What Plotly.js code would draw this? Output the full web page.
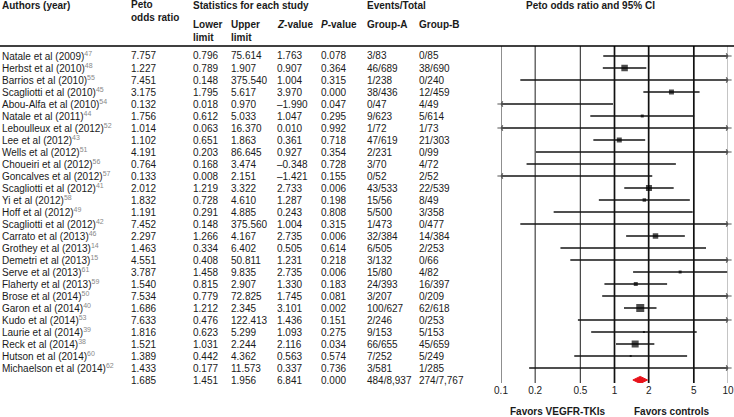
<!DOCTYPE html>
<html>
<head>
<meta charset="utf-8">
<script src="https://cdn.plot.ly/plotly-3.0.1.min.js"></script>
<style>html,body{margin:0;padding:0;background:#fff;}#chart{width:734px;height:417px;}</style>
</head>
<body>
<div id="chart"></div>
<script>
// ---- data ----
const authors = ["Natale et al (2009)","Herbst et al (2010)","Barrios et al (2010)","Scagliotti et al (2010)","Abou-Alfa et al (2010)","Natale et al (2011)","Leboulleux et al (2012)","Lee et al (2012)","Wells et al (2012)","Choueiri et al (2012)","Goncalves et al (2012)","Scagliotti et al (2012)","Yi et al (2012)","Hoff et al (2012)","Scagliotti et al (2012)","Carrato et al (2013)","Grothey et al (2013)","Demetri et al (2013)","Serve et al (2013)","Flaherty et al (2013)","Brose et al (2014)","Garon et al (2014)","Kudo et al (2014)","Laurie et al (2014)","Reck et al (2014)","Hutson et al (2014)","Michaelson et al (2014)"];
const refs = [47,48,55,45,54,44,52,43,51,56,57,41,58,49,42,46,14,15,61,59,50,40,53,39,38,60,62];
const peto  = [7.757,1.227,7.451,3.175,0.132,1.756,1.014,1.102,4.191,0.764,0.133,2.012,1.832,1.191,7.452,2.297,1.463,4.551,3.787,1.540,7.534,1.686,7.633,1.816,1.521,1.389,1.433];
const lower = [0.796,0.789,0.148,1.795,0.018,0.612,0.063,0.651,0.203,0.168,0.008,1.219,0.728,0.291,0.148,1.266,0.334,0.408,1.458,0.815,0.779,1.212,0.476,0.623,1.031,0.442,0.177];
const upper = [75.614,1.907,375.540,5.617,0.970,5.033,16.370,1.863,86.645,3.474,2.151,3.322,4.610,4.885,375.560,4.167,6.402,50.811,9.835,2.907,72.825,2.345,122.413,5.299,2.244,4.362,11.573];
const zval  = [1.763,0.907,1.004,3.970,-1.990,1.047,0.010,0.361,0.927,-0.348,-1.421,2.733,1.287,0.243,1.004,2.735,0.505,1.231,2.735,1.330,1.745,3.101,1.436,1.093,2.116,0.563,0.337];
const pval  = [0.078,0.364,0.315,0.000,0.047,0.295,0.992,0.718,0.354,0.728,0.155,0.006,0.198,0.808,0.315,0.006,0.614,0.218,0.006,0.183,0.081,0.002,0.151,0.275,0.034,0.574,0.736];
const groupA = ["3/83","46/689","1/238","38/436","0/47","9/623","1/72","47/619","2/231","3/70","0/52","43/533","15/56","5/500","1/473","32/384","6/505","3/132","15/80","24/393","3/207","100/627","2/246","9/153","66/655","7/252","3/581"];
const groupB = ["0/85","38/690","0/240","12/459","4/49","5/614","1/73","21/303","0/99","4/72","2/52","22/539","8/49","3/358","0/477","14/384","2/253","0/66","4/82","16/397","0/209","62/618","0/253","5/153","45/659","5/249","1/285"];
// pooled
const pooled = {peto:1.685, lower:1.451, upper:1.956, z:6.841, p:0.000, a:"484/8,937", b:"274/7,767"};
const tickVals = [0.1,0.2,0.5,1,2,5,10];
const tickLabels = ["0.1","0.2","0.5","1","2","5","10"];

// ---- presentation ----
const markerSize = [0,6.5,0,5,0,3,0,5,0,0,0,6,3.5,0,0,5.5,0,0,3,4,0,8,0,2,7,2,0];
const W = 734, H = 417;
const rowTopPx = 56, rowStep = 12, axTopPx = 46, axBotPx = 383;
const yTop = (rowTopPx - axTopPx) / rowStep;
const yBot = -(axBotPx - rowTopPx) / rowStep;
const font = "Liberation Sans, Arial, sans-serif";
const fs = 10;
const txtColor = "#1a1a1a";
const xMin = 0.1, xMax = 10;

const n = authors.length;
const rows = authors.map((_, i) => -i);
const fmt = v => v.toFixed(3).replace("-", "\u2013");

const traces = [];
// vertical reference lines
const vStyle = v => (v === 1 || v === 2 || v === 5) ? {w:1.7, c:"#111"} : (v === 10 ? {w:1, c:"#888"} : {w:1.1, c:"#333"});
tickVals.forEach(v => {
  const s = vStyle(v);
  traces.push({type:"scatter", mode:"lines", x:[v,v], y:[yTop,yBot], line:{color:s.c, width:s.w}, hoverinfo:"skip"});
});
// CI lines
const cx = [], cy = [];
for (let i = 0; i < n; i++) { cx.push(lower[i], upper[i], null); cy.push(rows[i], rows[i], null); }
traces.push({type:"scatter", mode:"lines", x:cx, y:cy, line:{color:"#151515", width:1.5}, hoverinfo:"skip"});
// arrows
const rax = [], ray = [], lax = [], lay = [];
for (let i = 0; i < n; i++) {
  if (upper[i] > xMax) { rax.push(xMax); ray.push(rows[i]); }
  if (lower[i] < xMin) { lax.push(xMin); lay.push(rows[i]); }
}
traces.push({type:"scatter", mode:"markers", x:rax, y:ray, marker:{symbol:"y-right", size:4.5, line:{color:"#555", width:1.2}}, hoverinfo:"skip", cliponaxis:false});
traces.push({type:"scatter", mode:"markers", x:lax, y:lay, marker:{symbol:"y-left", size:4.5, line:{color:"#555", width:1.2}}, hoverinfo:"skip", cliponaxis:false});
// point estimates
traces.push({type:"scatter", mode:"markers", x:peto, y:rows, marker:{symbol:"square", size:markerSize, color:"#000", line:{width:0}}, hoverinfo:"x"});
// pooled diamond
const dy = -n, dh = 0.3;
traces.push({type:"scatter", mode:"lines", fill:"toself", fillcolor:"#e8121a",
  x:[pooled.lower, pooled.peto, pooled.upper, pooled.peto, pooled.lower],
  y:[dy, dy+dh, dy, dy-dh, dy], line:{color:"#e8121a", width:1}, hoverinfo:"skip"});

// ---- annotations ----
const ann = [];
const px = x => x / W;
const py = y => 1 - y / H;
function cell(x, y, text, opts) {
  ann.push(Object.assign({xref:"paper", yref:"y", x:px(x), y:y, text:text, showarrow:false,
    xanchor:"left", yanchor:"middle", borderpad:0, font:{family:font, size:fs, color:txtColor}}, opts || {}));
}
const cols = {author:1, peto:130, lower:192, upper:230, z:276, p:320, a:366, b:418};
for (let i = 0; i < n; i++) {
  cell(cols.author, rows[i], authors[i] + '<sup><span style="color:#888">' + refs[i] + '</span></sup>');
  cell(cols.peto, rows[i], fmt(peto[i]));
  cell(cols.lower, rows[i], fmt(lower[i]));
  cell(cols.upper, rows[i], fmt(upper[i]));
  cell(cols.z, rows[i], fmt(zval[i]));
  cell(cols.p, rows[i], fmt(pval[i]));
  cell(cols.a, rows[i], groupA[i]);
  cell(cols.b, rows[i], groupB[i]);
}
cell(cols.peto, dy, fmt(pooled.peto));
cell(cols.lower, dy, fmt(pooled.lower));
cell(cols.upper, dy, fmt(pooled.upper));
cell(cols.z, dy, fmt(pooled.z));
cell(cols.p, dy, fmt(pooled.p));
cell(cols.a, dy, pooled.a);
cell(cols.b, dy, pooled.b);

function head(x, y, text, anchor) {
  ann.push({xref:"paper", yref:"paper", x:px(x), y:py(y), text:"<b>"+text+"</b>", showarrow:false,
    xanchor:anchor || "left", yanchor:"middle", align:"left", borderpad:0, font:{family:font, size:fs, color:txtColor}});
}
head(cols.author, 5, "Authors (year)");
head(cols.peto, 11, "Peto<br>odds ratio");
head(cols.lower, 5, "Statistics for each study");
head(cols.a, 5, "Events/Total");
head(590, 5, "Peto odds ratio and 95% CI", "center");
head(cols.lower, 31, "Lower<br>limit");
head(cols.upper, 31, "Upper<br>limit");
head(cols.z, 25, "<i>Z</i>-value");
head(cols.p, 25, "<i>P</i>-value");
head(cols.a, 25, "Group-A");
head(cols.b, 25, "Group-B");
head(557, 411, "Favors VEGFR-TKIs", "center");
head(671, 411, "Favors controls", "center");

const layout = {
  width: W, height: H, margin:{l:0, r:0, t:0, b:0}, paper_bgcolor:"#fff", plot_bgcolor:"rgba(0,0,0,0)",
  showlegend:false,
  xaxis:{type:"log", range:[Math.log10(xMin), Math.log10(xMax)], domain:[501/W, 728/W], anchor:"y",
    showgrid:false, zeroline:false, showline:false, ticks:"", tickvals:tickVals, ticktext:tickLabels,
    tickfont:{family:font, size:fs, color:txtColor}, fixedrange:true},
  yaxis:{range:[yBot, yTop], domain:[1 - axBotPx/H, 1 - axTopPx/H], visible:false, fixedrange:true},
  shapes:[{type:"line", xref:"paper", yref:"paper", x0:0, x1:1, y0:py(axTopPx), y1:py(axTopPx), line:{color:"#000", width:1.5}}],
  annotations: ann
};
Plotly.newPlot("chart", traces, layout, {displayModeBar:false, staticPlot:true});
</script>
</body>
</html>
